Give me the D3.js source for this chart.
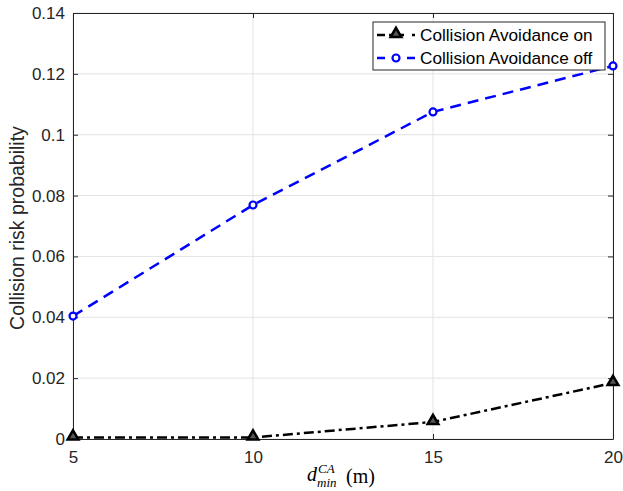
<!DOCTYPE html>
<html>
<head>
<meta charset="utf-8">
<script src="https://cdn.jsdelivr.net/npm/d3@7"></script>
<style>
  body { margin: 0; background: #fff; }
  text { font-family: 'Liberation Sans', Arial, sans-serif; }
</style>
</head>
<body>
<div id="chart"></div>
<script>
// chart data
const distances = [5, 10, 15, 20]
const caOn = [0.0005, 0.0005, 0.0056, 0.0184]
const caOff = [0.0404, 0.0769, 0.1075, 0.1226]
const xTicks = [5, 10, 15, 20]
const yTicks = [0, 0.02, 0.04, 0.06, 0.08, 0.1, 0.12, 0.14]

const width = 623
const height = 491
const margin = { top: 13, right: 10, bottom: 52, left: 73 }
const w = width - margin.left - margin.right
const h = height - margin.top - margin.bottom

const svg = d3
  .select('#chart')
  .append('svg')
  .attr('width', width)
  .attr('height', height)

const g = svg
  .append('g')
  .attr('transform', `translate(${margin.left},${margin.top})`)

const x = d3.scaleLinear().domain([5, 20]).range([0, w])
const y = d3.scaleLinear().domain([0, 0.14]).range([h, 0])

// grid
g.append('g')
  .selectAll('line')
  .data(xTicks)
  .enter()
  .append('line')
  .attr('x1', d => x(d))
  .attr('x2', d => x(d))
  .attr('y1', 0)
  .attr('y2', h)
  .attr('stroke', '#e3e3e3')
g.append('g')
  .selectAll('line')
  .data(yTicks)
  .enter()
  .append('line')
  .attr('x1', 0)
  .attr('x2', w)
  .attr('y1', d => y(d))
  .attr('y2', d => y(d))
  .attr('stroke', '#e3e3e3')

// axes
const fmt = d => (d === 0 ? '0' : d3.format('~g')(d))
const xAxis = g
  .append('g')
  .attr('transform', `translate(0,${h})`)
  .call(d3.axisBottom(x).tickValues(xTicks).tickSizeInner(-5).tickSizeOuter(0).tickPadding(12))
const yAxis = g
  .append('g')
  .call(d3.axisLeft(y).tickValues(yTicks).tickFormat(fmt).tickSizeInner(-5).tickSizeOuter(0).tickPadding(8))
const xTop = g
  .append('g')
  .call(d3.axisTop(x).tickValues(xTicks).tickSizeInner(-5).tickSizeOuter(0).tickFormat(''))
const yRight = g
  .append('g')
  .attr('transform', `translate(${w},0)`)
  .call(d3.axisRight(y).tickValues(yTicks).tickSizeInner(-5).tickSizeOuter(0).tickFormat(''))

;[xAxis, yAxis, xTop, yRight].forEach(a => {
  a.selectAll('path').attr('stroke', '#262626').attr('stroke-width', 1)
  a.selectAll('line').attr('stroke', '#262626')
  a.selectAll('text')
    .attr('fill', '#262626')
    .style('font-size', '17px')
    .style('font-family', "'Liberation Sans', Arial, sans-serif")
})

// lines
const line = d3
  .line()
  .x((d, i) => x(distances[i]))
  .y(d => y(d))

g.append('path')
  .datum(caOn)
  .attr('fill', 'none')
  .attr('stroke', '#000')
  .attr('stroke-width', 2.5)
  .attr('stroke-dasharray', '10,4,3,4')
  .attr('d', line)

g.append('path')
  .datum(caOff)
  .attr('fill', 'none')
  .attr('stroke', '#0000ff')
  .attr('stroke-width', 2.5)
  .attr('stroke-dasharray', '11,7')
  .attr('d', line)

// markers
const tri = d3.symbol().type(d3.symbolTriangle).size(50)
g.selectAll('.tri')
  .data(caOn)
  .enter()
  .append('path')
  .attr('class', 'tri')
  .attr('d', tri)
  .attr('transform', (d, i) => `translate(${x(distances[i])},${y(d) - 1})`)
  .attr('fill', '#555')
  .attr('stroke', '#000')
  .attr('stroke-width', 2.5)

g.selectAll('.circ')
  .data(caOff)
  .enter()
  .append('circle')
  .attr('class', 'circ')
  .attr('cx', (d, i) => x(distances[i]))
  .attr('cy', d => y(d))
  .attr('r', 3.5)
  .attr('fill', '#fff')
  .attr('stroke', '#0000ff')
  .attr('stroke-width', 2.2)

// legend
const lg = svg.append('g').attr('transform', 'translate(373,22)')
lg.append('rect')
  .attr('width', 232)
  .attr('height', 48)
  .attr('fill', '#fff')
  .attr('stroke', '#262626')
  .attr('stroke-width', 1)

const legendItems = [
  { label: 'Collision Avoidance on', color: '#000', marker: 'tri' },
  { label: 'Collision Avoidance off', color: '#0000ff', marker: 'circ' },
]
legendItems.forEach((it, i) => {
  const yy = 13 + i * 23
  lg.append('line')
    .attr('x1', 4)
    .attr('x2', 42)
    .attr('y1', yy)
    .attr('y2', yy)
    .attr('stroke', it.color)
    .attr('stroke-width', 2.5)
    .attr('stroke-dasharray', it.marker === 'tri' ? '8,4,3,4,8' : '8,7,8,7,8')
  if (it.marker === 'tri') {
    lg.append('path')
      .attr('d', tri)
      .attr('transform', `translate(23,${yy - 1})`)
      .attr('fill', '#555')
      .attr('stroke', it.color)
      .attr('stroke-width', 2.5)
  } else {
    lg.append('circle')
      .attr('cx', 23)
      .attr('cy', yy)
      .attr('r', 3.5)
      .attr('fill', '#fff')
      .attr('stroke', it.color)
      .attr('stroke-width', 2.2)
  }
  lg.append('text')
    .attr('x', 47)
    .attr('y', yy + 6)
    .attr('fill', '#000')
    .style('font-size', '17.2px')
    .text(it.label)
})

// axis labels
svg.append('text')
  .attr('text-anchor', 'middle')
  .attr('transform', `translate(24,228) rotate(-90)`)
  .attr('fill', '#262626')
  .style('font-size', '19.5px')
  .text('Collision risk probability')

// x label: d_min^CA (m), pieces placed separately
const serif = "'Liberation Serif', 'DejaVu Serif', serif"
const xParts = [
  { t: 'd', x: 307, y: 481, size: 20, italic: true },
  { t: 'CA', x: 318, y: 473, size: 13, italic: true },
  { t: 'min', x: 317, y: 487, size: 13, italic: true },
  { t: '(m)', x: 346, y: 483, size: 20, italic: false },
]
svg.append('g')
  .selectAll('text')
  .data(xParts)
  .enter()
  .append('text')
  .attr('x', d => d.x)
  .attr('y', d => d.y)
  .attr('fill', '#000')
  .style('font-family', serif)
  .style('font-style', d => (d.italic ? 'italic' : 'normal'))
  .style('font-size', d => d.size + 'px')
  .text(d => d.t)
</script>
</body>
</html>
